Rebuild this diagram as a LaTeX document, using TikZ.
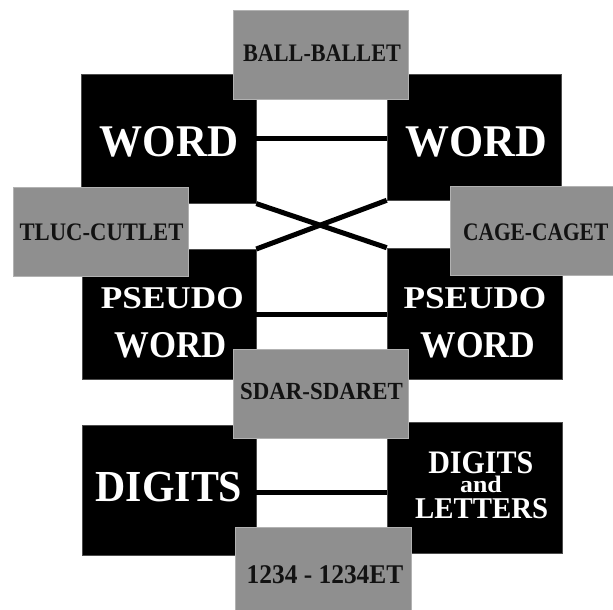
\documentclass[tikz,border=0pt]{standalone}
\usepackage{fontspec}
\setmainfont{Liberation Serif}
\newfontfamily\boxfont{Liberation Serif Bold}
\definecolor{boxgray}{RGB}{143,143,143}
\newcommand{\sx}[2]{\scalebox{#1}[1]{#2}}
\newcommand{\fs}[1]{\boxfont\fontsize{#1}{#1}\selectfont}

\begin{document}
\begin{tikzpicture}[x=1pt, y=-1pt,
	blackbox/.style={fill=black, draw=black!70, line width=0.6pt, inner sep=0pt},
	graybox/.style={fill=boxgray, draw=black!30, line width=0.8pt, inner sep=0pt, minimum width=175.5pt, minimum height=89pt},
	link/.style={line width=5pt},
	whitetext/.style={text=white, anchor=base, inner sep=0pt},
	darktext/.style={text=black!93, anchor=base, inner sep=0pt}]
	\useasboundingbox (0,0) rectangle (613,610);

	% black boxes
	\node[blackbox, minimum width=175pt, minimum height=129.3pt] (wordL) at (168.5,138.65) {};
	\node[blackbox, minimum width=174pt, minimum height=126pt] (wordR) at (474,137) {};
	\node[blackbox, minimum width=174pt, minimum height=129.7pt] (pseudoL) at (169,314.15) {};
	\node[blackbox, minimum width=175pt, minimum height=131pt] (pseudoR) at (474.5,313.5) {};
	\node[blackbox, minimum width=174pt, minimum height=130pt] (digL) at (169,490) {};
	\node[blackbox, minimum width=175pt, minimum height=130.6pt] (digR) at (474.5,488) {};

	% links
	\draw[link] (wordL.east) -- (wordL.east -| wordR.west);
	\draw[link] (wordL.south east) -- (pseudoR.north west);
	\draw[link] (wordR.south west) -- (pseudoL.north east);
	\draw[link] (pseudoL.east) -- (pseudoL.east -| pseudoR.west);
	\draw[link] (digL.east) ++(0,2.5) -- (digR.west |- 0,492.5);

	% gray boxes
	\node[graybox] (ball) at (320.75,55.35) {};
	\node[graybox] (tluc) at (100.75,232) {};
	\node[graybox] (cage) at (537.75,230.5) {};
	\node[graybox] (sdar) at (320.75,393.8) {};
	\node[graybox] (num) at (323.25,571.8) {};

	% texts
	\node[darktext, font={\fs{25.2}}] (ballT) at (322,61.7) {\sx{0.88}{BALL-BALLET}};
	\node[darktext, font={\fs{25.2}}] (tlucT) at (101.5,240) {\sx{0.9}{TLUC-CUTLET}};
	\node[darktext, font={\fs{25.2}}] (cageT) at (535.7,240) {\sx{0.85}{CAGE-CAGET}};
	\node[darktext, font={\fs{24.6}}] (sdarT) at (321.5,399) {\sx{0.93}{SDAR-SDARET}};
	\node[darktext, font={\fs{27}}] (numT) at (325,583.3) {\sx{0.94}{1234 - 1234ET}};

	\node[whitetext, font={\fs{45.3}}] (wordLT) at (169,156.7) {\sx{0.95}{WORD}};
	\node[whitetext, font={\fs{45.3}}] (wordRT) at (476,156.7) {\sx{0.97}{WORD}};
	\node[whitetext, font={\fs{31.7}}] (pseudoLT) at (172.3,308.3) {\sx{1.11}{PSEUDO}};
	\node[whitetext, font={\fs{31.7}}] (pseudoRT) at (475,308.3) {\sx{1.11}{PSEUDO}};
	\node[whitetext, font={\fs{37.8}}] (pwordLT) at (171,357) {\sx{0.92}{WORD}};
	\node[whitetext, font={\fs{37.8}}] (pwordRT) at (478,357) {\sx{0.94}{WORD}};
	\node[whitetext, font={\fs{44.3}}] (digLT) at (169,501) {\sx{0.945}{DIGITS}};
	\node[whitetext, font={\fs{32.8}}] (digRT) at (480.8,473.3) {\sx{0.915}{DIGITS}};
	\node[whitetext, font={\fs{23.7}}] (andT) at (481,492.7) {\sx{1.09}{and}};
	\node[whitetext, font={\fs{30.2}}] (lettersT) at (481.7,518.3) {\sx{0.955}{LETTERS}};
\end{tikzpicture}
\end{document}
